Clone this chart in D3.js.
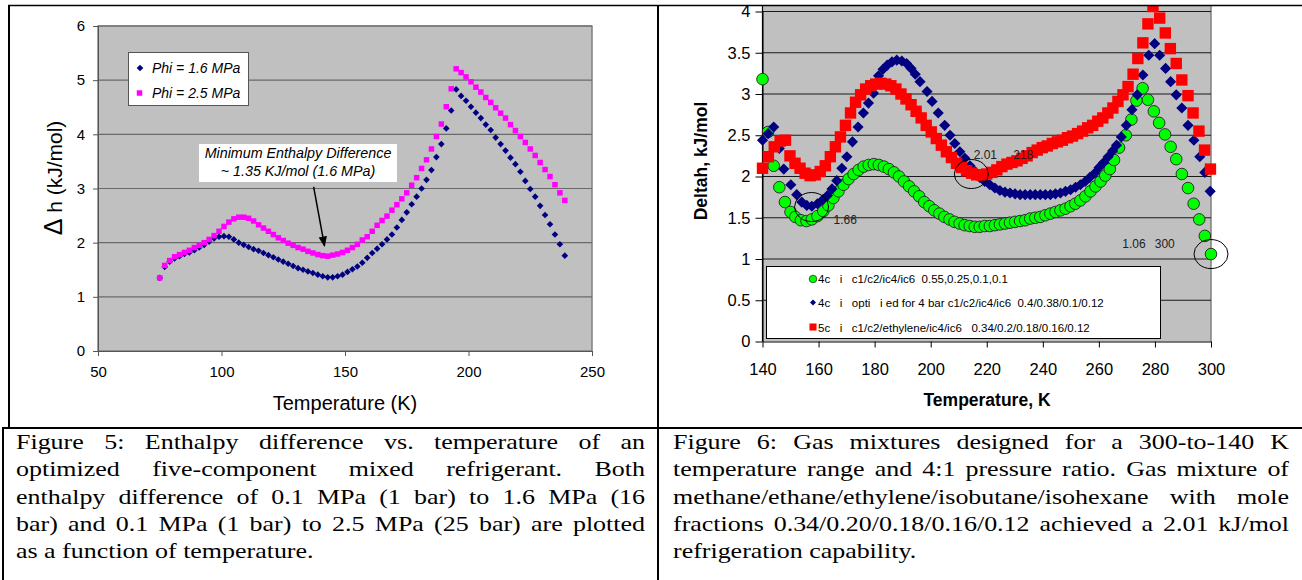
<!DOCTYPE html>
<html>
<head>
<meta charset="utf-8">
<script src="https://cdn.jsdelivr.net/npm/d3@7"></script>
<style>
  body { margin: 0; background: #fff; }
</style>
</head>
<body>
<svg id="page"></svg>
<script>
// ---- Figure 5 data : enthalpy difference vs temperature ----
const tempP16 = [75,77,79,81,83,85,87,89,91,93,95,97,99,101,103,105,107,109,111,113,115,117,119,121,123,125,127,129,131,133,135,137,139,141,143,145,147,149,151,153,155,157,159,161,163,165,167,169,171,173,175,177,179,181,183,185,187,189,191,193,195,197,199,201,203,205,207,209,211,213,215,217,219,221,223,225,227,229,231,233,235,237,239];
const dhP16 = [1.35,1.55,1.65,1.71,1.75,1.79,1.82,1.86,1.91,1.96,2.02,2.08,2.11,2.12,2.11,2.06,2.00,1.96,1.92,1.88,1.85,1.81,1.77,1.73,1.69,1.65,1.61,1.57,1.53,1.50,1.47,1.44,1.41,1.38,1.36,1.36,1.38,1.41,1.46,1.51,1.56,1.63,1.72,1.81,1.89,1.97,2.06,2.15,2.28,2.42,2.56,2.71,2.85,3.00,3.16,3.34,3.58,3.82,4.11,4.44,4.83,4.71,4.62,4.51,4.40,4.30,4.18,4.08,3.94,3.82,3.70,3.57,3.45,3.31,3.14,2.99,2.85,2.68,2.51,2.34,2.15,1.97,1.76];
const tempP25 = tempP16;
const dhP25 = [1.35,1.58,1.67,1.74,1.78,1.82,1.86,1.91,1.95,2.00,2.06,2.13,2.21,2.30,2.38,2.44,2.47,2.47,2.45,2.40,2.33,2.27,2.21,2.15,2.09,2.04,1.99,1.95,1.91,1.88,1.84,1.81,1.78,1.76,1.75,1.77,1.79,1.82,1.86,1.91,1.97,2.05,2.11,2.21,2.32,2.41,2.49,2.60,2.70,2.81,2.92,3.06,3.20,3.37,3.53,3.73,3.96,4.19,4.51,4.84,5.21,5.14,5.06,4.97,4.87,4.78,4.68,4.59,4.49,4.39,4.30,4.18,4.07,3.96,3.85,3.73,3.61,3.48,3.35,3.22,3.07,2.92,2.78];
const ticksX5 = [50,100,150,200,250];
const ticksY5 = [0,1,2,3,4,5,6];
const legend5 = ["Phi = 1.6 MPa", "Phi = 2.5 MPa"];

// ---- Figure 6 data : three gas mixtures ----
const tempMix1 = [140,142,144,146,148,150,151.7,153.7,155.7,157.6,159.6,161.7,163.5,165.3,167.1,168.9,170.7,172.5,174.3,176.1,177.9,179.7,181.5,183.3,185.1,186.9,188.7,190.5,192.3,194.1,195.9,197.7,199.5,201.3,203.1,204.9,206.7,208.5,210.3,212.1,213.9,215.7,217.5,219.3,221.1,222.9,224.7,226.5,228.3,230.1,231.9,233.7,235.5,237.3,239.1,240.9,242.7,244.5,246.3,248.1,249.9,251.6,253.4,255.2,257,258.8,260.6,262.3,263.9,265.4,267.2,269.6,271.6,273.4,275.6,277.5,279.6,281.5,283.6,285.6,287.6,289.6,291.8,293.8,295.8,297.8,300];
const dhMix1 = [3.18,2.54,2.13,1.87,1.69,1.57,1.51,1.47,1.46,1.48,1.52,1.58,1.65,1.74,1.82,1.90,1.97,2.03,2.08,2.12,2.14,2.15,2.14,2.12,2.09,2.05,2.00,1.94,1.88,1.82,1.76,1.69,1.64,1.59,1.55,1.51,1.48,1.45,1.43,1.41,1.40,1.39,1.39,1.40,1.40,1.41,1.42,1.43,1.44,1.45,1.46,1.47,1.49,1.50,1.51,1.53,1.55,1.57,1.59,1.61,1.64,1.67,1.71,1.76,1.82,1.88,1.94,2.01,2.09,2.20,2.35,2.50,2.69,2.92,3.07,2.93,2.79,2.65,2.51,2.36,2.21,2.03,1.86,1.67,1.48,1.28,1.06];
const tempMix2 = [140,142,144,146,147.6,150.1,152.2,154,155.8,157.6,159.6,161.6,163.2,164.8,166.5,168.3,170.1,172.1,174.1,176,177.8,179.6,181.4,183,184.5,186.2,187.9,189.7,191.4,193,194.5,196.2,198.7,200.5,202.7,205,206.9,208.6,210.4,212.2,214,215.8,217.5,219.3,221.1,222.9,224.7,226.5,228.3,230.1,231.9,233.7,235.5,237.3,239.1,240.9,242.7,244.5,246.3,248.1,249.9,251.7,253.4,255.1,256.8,258.5,260.1,261.7,263.3,264.9,266.3,268,269.8,271.8,273.7,275.7,277.8,279.9,281.7,283.8,285.6,287.6,289.6,291.8,293.9,296,297.8,299.7];
const dhMix2 = [2.44,2.52,2.60,2.34,2.09,1.90,1.78,1.69,1.65,1.64,1.67,1.72,1.77,1.85,1.95,2.10,2.24,2.42,2.60,2.77,2.89,3.01,3.22,3.30,3.35,3.39,3.41,3.40,3.37,3.31,3.24,3.15,3.03,2.91,2.77,2.62,2.50,2.40,2.30,2.22,2.13,2.06,1.99,1.94,1.90,1.86,1.83,1.81,1.80,1.79,1.78,1.78,1.78,1.78,1.78,1.78,1.78,1.79,1.80,1.82,1.84,1.87,1.90,1.94,1.99,2.04,2.11,2.17,2.24,2.31,2.38,2.48,2.62,2.81,2.99,3.23,3.47,3.61,3.47,3.31,3.15,2.99,2.83,2.62,2.44,2.24,2.05,1.82];
const tempMix3 = [140,142.1,144.2,146.3,148.2,149.8,151.6,153.4,155.2,157,158.8,160.6,162.4,164.2,166,167.8,169.6,171.4,173.2,175,176.8,178.6,180.4,182.2,184,185.8,187.6,189.4,191.2,193,194.8,196.6,198.4,200.2,202,203.8,205.6,207.4,209.2,211,212.8,214.6,216.4,218.2,220,221.8,223.6,225.4,227.2,229,230.8,232.6,234.4,236.2,238,239.8,241.6,243.4,245.2,247,248.8,250.6,252.4,254.2,256,257.8,259.6,261.4,263.2,265,266.8,268.6,270.4,272.2,273.9,275.7,277.5,279.3,281.7,283.7,285.5,287.6,289.6,291.8,293.6,295.7,297.7,299.8];
const dhMix3 = [2.10,2.24,2.36,2.43,2.44,2.25,2.16,2.10,2.04,2.01,2.02,2.06,2.13,2.24,2.36,2.48,2.62,2.77,2.90,2.99,3.06,3.10,3.12,3.13,3.12,3.10,3.06,3.00,2.94,2.87,2.79,2.71,2.62,2.54,2.46,2.38,2.30,2.23,2.16,2.11,2.07,2.04,2.02,2.02,2.03,2.05,2.08,2.12,2.15,2.17,2.19,2.22,2.25,2.29,2.32,2.35,2.37,2.40,2.42,2.44,2.47,2.49,2.52,2.55,2.59,2.62,2.67,2.71,2.77,2.83,2.91,2.99,3.09,3.24,3.43,3.62,3.85,4.06,3.92,3.74,3.55,3.37,3.17,2.98,2.77,2.55,2.32,2.09];
const ticksX6 = [140,160,180,200,220,240,260,280,300];
const ticksY6 = [0,0.5,1,1.5,2,2.5,3,3.5,4];
const legend6 = [
  "4c   i   c1/c2/ic4/ic6  0.55,0.25,0.1,0.1",
  "4c   i   opti   i ed for 4 bar c1/c2/ic4/ic6  0.4/0.38/0.1/0.12",
  "5c   i   c1/c2/ethylene/ic4/ic6   0.34/0.2/0.18/0.16/0.12"
];
// circled points [temperature, value] and value labels [text, temperature, value]
const notes6 = [[157.5, 1.63], [214.5, 2.03], [300, 1.06]];
const labels6 = [["1.66", 169.5, 1.48], ["2.01", 219.5, 2.26], ["218", 233, 2.26], ["1.06", 272.5, 1.19], ["300", 283.5, 1.19]];

const caption5 = [
  "Figure 5: Enthalpy difference vs. temperature of an",
  "optimized five-component mixed refrigerant.  Both",
  "enthalpy difference of 0.1 MPa (1 bar) to 1.6 MPa (16",
  "bar) and 0.1 MPa (1 bar) to 2.5 MPa (25 bar) are plotted",
  "as a function of temperature."
];
const caption6 = [
  "Figure 6: Gas mixtures designed for a 300-to-140 K",
  "temperature range and 4:1 pressure ratio. Gas mixture of",
  "methane/ethane/ethylene/isobutane/isohexane with mole",
  "fractions 0.34/0.20/0.18/0.16/0.12 achieved a 2.01 kJ/mol",
  "refrigeration capability."
];

const SANS = "'Liberation Sans', Arial, sans-serif";
const SERIF = "'Liberation Serif', 'Times New Roman', serif";

const svg = d3.select("#page").attr("width", 1302).attr("height", 580);
svg.append("rect").attr("width", 1302).attr("height", 580).attr("fill", "#fff");

const defs = svg.append("defs");
defs.append("clipPath").attr("id", "clip6")
  .append("rect").attr("x", 700).attr("y", 6).attr("width", 602).attr("height", 420);
defs.append("marker").attr("id", "arrow")
  .attr("viewBox", "0 0 10 10").attr("refX", 9).attr("refY", 5)
  .attr("markerWidth", 7).attr("markerHeight", 7).attr("orient", "auto")
  .append("path").attr("d", "M0,1L10,5L0,9Z").attr("fill", "#000");

function zip(xs, ys) { return xs.map((t, i) => [t, ys[i]]); }

function styleAxis(g, size, color) {
  g.select(".domain").attr("stroke", color);
  g.selectAll(".tick line").attr("stroke", color);
  g.selectAll(".tick text").attr("font-family", SANS).attr("font-size", size).attr("fill", "#000");
}

// =================== Figure 5 ===================
const x5 = d3.scaleLinear().domain([50, 250]).range([98, 592]);
const y5 = d3.scaleLinear().domain([0, 6]).range([351, 26]);
const g5 = svg.append("g");

g5.append("rect")
  .attr("x", x5(50)).attr("y", y5(6))
  .attr("width", x5(250) - x5(50)).attr("height", y5(0) - y5(6))
  .attr("fill", "#c0c0c0").attr("stroke", "#808080").attr("stroke-width", 1.5);

g5.selectAll(".grid5").data(ticksY5.slice(1)).join("line")
  .attr("x1", x5(50)).attr("x2", x5(250))
  .attr("y1", d => y5(d)).attr("y2", d => y5(d))
  .attr("stroke", "#6a6a6a").attr("stroke-width", 1.2);

const ax5 = g5.append("g").attr("transform", `translate(0,${y5(0)})`)
  .call(d3.axisBottom(x5).tickValues(ticksX5).tickSize(5).tickPadding(10).tickFormat(d => String(d)));
styleAxis(ax5, 15, "#555");
const ay5 = g5.append("g").attr("transform", `translate(${x5(50)},0)`)
  .call(d3.axisLeft(y5).tickValues(ticksY5).tickSize(5).tickPadding(8).tickFormat(d => String(d)));
styleAxis(ay5, 15, "#555");

g5.append("text").attr("x", 345).attr("y", 410)
  .attr("text-anchor", "middle").attr("font-family", SANS).attr("font-size", 20)
  .text("Temperature (K)");

const yt5 = g5.append("text").attr("transform", "translate(62,178) rotate(-90)")
  .attr("text-anchor", "middle").attr("font-family", SANS).attr("font-size", 21);
yt5.append("tspan").attr("font-size", 25).text("\u0394");
yt5.append("tspan").text(" h (kJ/mol)");

const diamondSmall = d3.symbol().type(d3.symbolSquare).size(22);
const squareSmall = d3.symbol().type(d3.symbolSquare).size(30);

g5.append("g").selectAll("path").data(zip(tempP16, dhP16)).join("path")
  .attr("d", diamondSmall)
  .attr("transform", d => `translate(${x5(d[0])},${y5(d[1])}) rotate(45)`)
  .attr("fill", "#000080");
g5.append("g").selectAll("path").data(zip(tempP25, dhP25)).join("path")
  .attr("d", squareSmall)
  .attr("transform", d => `translate(${x5(d[0])},${y5(d[1])})`)
  .attr("fill", "#ff00ff");

// legend
g5.append("rect").attr("x", 128.5).attr("y", 52.5).attr("width", 120).attr("height", 53)
  .attr("fill", "#fff").attr("stroke", "#555");
g5.append("path").attr("d", diamondSmall).attr("transform", "translate(140,68) rotate(45)").attr("fill", "#000080");
g5.append("path").attr("d", squareSmall).attr("transform", "translate(139.5,93)").attr("fill", "#ff00ff");
g5.selectAll(".leg5").data(legend5).join("text")
  .attr("x", 152).attr("y", (d, i) => 73 + i * 25)
  .attr("font-family", SANS).attr("font-size", 14).attr("font-style", "italic")
  .text(d => d);

// annotation
g5.append("rect").attr("x", 199).attr("y", 144).attr("width", 198).attr("height", 38).attr("fill", "#fff");
g5.append("text").attr("x", 298).attr("y", 158).attr("text-anchor", "middle")
  .attr("font-family", SANS).attr("font-size", 14.3).attr("font-style", "italic")
  .text("Minimum Enthalpy Difference");
g5.append("text").attr("x", 298).attr("y", 176).attr("text-anchor", "middle")
  .attr("font-family", SANS).attr("font-size", 14.3).attr("font-style", "italic")
  .text("~ 1.35 KJ/mol (1.6 MPa)");
g5.append("line")
  .attr("x1", x5(137.3)).attr("y1", y5(3.03))
  .attr("x2", x5(141.7)).attr("y2", y5(1.94))
  .attr("stroke", "#000").attr("stroke-width", 1.5).attr("marker-end", "url(#arrow)");

// =================== Figure 6 ===================
const x6 = d3.scaleLinear().domain([140, 300]).range([762.5, 1211]);
const y6 = d3.scaleLinear().domain([0, 4]).range([341.5, 11.5]);
const g6 = svg.append("g");

g6.append("rect")
  .attr("x", x6(140)).attr("y", 6)
  .attr("width", x6(300) - x6(140)).attr("height", y6(0) - 6)
  .attr("fill", "#c0c0c0");
g6.append("line").attr("x1", x6(300)).attr("x2", x6(300)).attr("y1", 6).attr("y2", y6(0))
  .attr("stroke", "#808080").attr("stroke-width", 1.5);

g6.selectAll(".grid6").data(ticksY6.slice(1)).join("line")
  .attr("x1", x6(140)).attr("x2", x6(300))
  .attr("y1", d => y6(d)).attr("y2", d => y6(d))
  .attr("stroke", "#1a1a1a").attr("stroke-width", 1.2);

const ax6 = g6.append("g").attr("transform", `translate(0,${y6(0)})`)
  .call(d3.axisBottom(x6).tickValues(ticksX6).tickSize(6).tickSizeOuter(0).tickPadding(16));
styleAxis(ax6, 16.5, "#000");
const ay6 = g6.append("g").attr("transform", `translate(${x6(140)},0)`)
  .call(d3.axisLeft(y6).tickValues(ticksY6).tickSize(7).tickSizeOuter(0).tickPadding(5).tickFormat(d => String(d)));
styleAxis(ay6, 16.5, "#000");
g6.append("line").attr("x1", x6(140)).attr("x2", x6(140)).attr("y1", 6).attr("y2", y6(0))
  .attr("stroke", "#000").attr("stroke-width", 1.2);

g6.append("text").attr("x", 987).attr("y", 406)
  .attr("text-anchor", "middle").attr("font-family", SANS).attr("font-size", 17.5).attr("font-weight", "bold")
  .text("Temperature, K");
g6.append("text").attr("transform", "translate(707,161) rotate(-90)")
  .attr("text-anchor", "middle").attr("font-family", SANS).attr("font-size", 17.5).attr("font-weight", "bold")
  .text("Deltah, kJ/mol");

const data6 = g6.append("g").attr("clip-path", "url(#clip6)");
const bigDiamond = d3.symbol().type(d3.symbolSquare).size(62);
const bigSquare = d3.symbol().type(d3.symbolSquare).size(130);

data6.append("g").selectAll("circle").data(zip(tempMix1, dhMix1)).join("circle")
  .attr("cx", d => x6(d[0])).attr("cy", d => y6(d[1])).attr("r", 5.8)
  .attr("fill", "#00ff00").attr("stroke", "#222").attr("stroke-width", 0.9);
data6.append("g").selectAll("path").data(zip(tempMix2, dhMix2)).join("path")
  .attr("d", bigDiamond)
  .attr("transform", d => `translate(${x6(d[0])},${y6(d[1])}) rotate(45)`)
  .attr("fill", "#000080");
data6.append("g").selectAll("path").data(zip(tempMix3, dhMix3)).join("path")
  .attr("d", bigSquare)
  .attr("transform", d => `translate(${x6(d[0])},${y6(d[1])})`)
  .attr("fill", "#ff0000");

// circled values and their labels
g6.selectAll(".note6").data(notes6).join("ellipse")
  .attr("cx", d => x6(d[0])).attr("cy", d => y6(d[1]))
  .attr("rx", 17).attr("ry", 14.5)
  .attr("fill", "none").attr("stroke", "#000").attr("stroke-width", 1);
g6.selectAll(".lab6").data(labels6).join("text")
  .attr("x", d => x6(d[1])).attr("y", d => y6(d[2]))
  .attr("dy", "0.35em").attr("text-anchor", "middle")
  .attr("font-family", SANS).attr("font-size", 12).attr("fill", "#222")
  .text(d => d[0]);

// legend
g6.append("rect").attr("x", 766.5).attr("y", 266.5).attr("width", 394).attr("height", 72)
  .attr("fill", "#fff").attr("stroke", "#000");
g6.append("circle").attr("cx", 813).attr("cy", 279).attr("r", 3.8)
  .attr("fill", "#00ff00").attr("stroke", "#222").attr("stroke-width", 0.7);
g6.append("path").attr("d", d3.symbol().type(d3.symbolSquare).size(18))
  .attr("transform", "translate(813,302.5) rotate(45)").attr("fill", "#000080");
g6.append("path").attr("d", d3.symbol().type(d3.symbolSquare).size(50))
  .attr("transform", "translate(813,327)").attr("fill", "#ff0000");
g6.selectAll(".leg6").data(legend6).join("text")
  .attr("x", 818).attr("y", (d, i) => 283 + i * 24.3)
  .attr("font-family", SANS).attr("font-size", 11.5)
  .style("white-space", "pre")
  .text(d => d);

// =================== table frame ===================
const frame = svg.append("g").attr("stroke", "#000").attr("fill", "none");
frame.append("line").attr("x1", 8).attr("x2", 1302).attr("y1", 5.5).attr("y2", 5.5).attr("stroke-width", 1.6);
frame.append("line").attr("x1", 9).attr("x2", 9).attr("y1", 5).attr("y2", 428).attr("stroke-width", 2);
frame.append("line").attr("x1", 658).attr("x2", 658).attr("y1", 5).attr("y2", 580).attr("stroke-width", 2);
frame.append("line").attr("x1", 2).attr("x2", 1302).attr("y1", 428).attr("y2", 428).attr("stroke-width", 2);
frame.append("line").attr("x1", 3).attr("x2", 3).attr("y1", 428).attr("y2", 580).attr("stroke-width", 2);

// =================== captions ===================
function caption(lines, x0, x1, y0) {
  const sx = 1.18, lh = 27.3;
  const g = svg.append("g")
    .attr("transform", `translate(${x0},0) scale(${sx},1)`)
    .attr("font-family", SERIF).attr("font-size", 22).attr("fill", "#000");
  const w = (x1 - x0) / sx;
  lines.forEach((line, i) => {
    const y = y0 + i * lh;
    if (i === lines.length - 1) {
      g.append("text").attr("x", 0).attr("y", y).text(line);
      return;
    }
    const words = line.split(" ").filter(s => s.length);
    const nodes = words.map(wd => g.append("text").attr("y", y).text(wd));
    const widths = nodes.map(n => n.node().getComputedTextLength());
    const gap = (w - d3.sum(widths)) / (words.length - 1);
    let cx = 0;
    nodes.forEach((n, j) => { n.attr("x", cx); cx += widths[j] + gap; });
  });
}
caption(caption5, 16, 645, 449);
caption(caption6, 673, 1289, 449);
</script>
</body>
</html>
